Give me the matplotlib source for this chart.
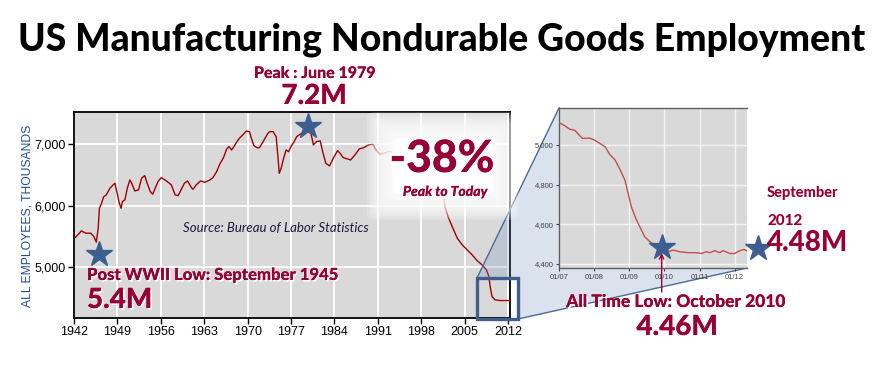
import matplotlib
matplotlib.use('Agg')
import matplotlib.pyplot as plt
from matplotlib.patches import Polygon, Rectangle, FancyBboxPatch
from matplotlib.lines import Line2D
import matplotlib.patheffects as pe

# ---------------- data ----------------
main_years = [1942.0, 1942.2, 1943.2, 1943.9, 1944.7, 1945.2, 1945.6, 1945.9, 1946.1, 1946.4,
              1946.8, 1947.2, 1947.8, 1948.3, 1948.6, 1948.9, 1949.3, 1949.6, 1949.8, 1950.2,
              1950.6, 1951.0, 1951.3, 1951.8, 1952.4, 1952.9, 1953.4, 1953.8, 1954.3, 1954.7,
              1955.2, 1955.6, 1956.1, 1956.9, 1957.7, 1958.3, 1958.8, 1959.4, 1959.8, 1960.3,
              1961.0, 1961.2, 1961.7, 1962.4, 1963.1, 1963.9, 1964.4, 1965.0, 1965.5, 1966.1,
              1966.6, 1967.0, 1967.4, 1967.8, 1968.2, 1968.8, 1969.3, 1969.8, 1970.3, 1970.6,
              1971.0, 1971.5, 1971.9, 1972.5, 1973.1, 1973.5, 1974.1, 1974.6, 1974.9, 1975.1,
              1975.4, 1975.8, 1976.2, 1976.6, 1977.0, 1977.5, 1977.9, 1978.7, 1979.5, 1980.2,
              1980.6, 1981.1, 1981.7, 1982.1, 1982.6, 1983.2, 1983.8, 1984.5, 1984.9, 1985.4,
              1986.1, 1986.6, 1987.3, 1988.0, 1988.7, 1989.5, 1990.2, 1990.7, 1991.3, 1991.9,
              1992.7, 1994.0, 1996.0, 1998.0, 1999.5, 2000.5, 2001.2, 2001.6, 2001.8, 2002.4,
              2003.1, 2003.8, 2004.6, 2005.4, 2006.2, 2007.0, 2007.8, 2008.5, 2008.9, 2009.1,
              2009.4, 2009.9, 2010.7, 2011.5, 2012.2]
main_values = [5500, 5480, 5589, 5552, 5552, 5496, 5405, 5633, 5959, 6030,
               6149, 6177, 6286, 6340, 6367, 6231, 6041, 5959, 6068, 6095,
               6286, 6421, 6367, 6242, 6258, 6449, 6492, 6367, 6231, 6188,
               6313, 6405, 6459, 6405, 6340, 6177, 6166, 6286, 6367, 6405,
               6286, 6269, 6340, 6405, 6383, 6421, 6459, 6557, 6677, 6785,
               6922, 6967, 6910, 6967, 7036, 7117, 7165, 7220, 7209, 7101,
               6981, 6948, 6948, 7047, 7155, 7209, 7209, 7128, 6775, 6530,
               6611, 6775, 6910, 6883, 6967, 7047, 7128, 7182, 7220, 7182,
               6993, 7047, 7058, 6883, 6693, 6650, 6775, 6900, 6856, 6785,
               6764, 6747, 6829, 6927, 6948, 6993, 7003, 6910, 6840, 6856,
               6883, 6880, 6800, 6700, 6600, 6450, 6300, 6176, 5986, 5796,
               5633, 5470, 5361, 5280, 5198, 5105, 5035, 4953, 4844, 4681,
               4518, 4464, 4453, 4453, 4453]

inset_years = [2007.0, 2007.17, 2007.31, 2007.45, 2007.55, 2007.67, 2007.88, 2008.02, 2008.16,
               2008.31, 2008.45, 2008.59, 2008.73, 2008.88, 2008.97, 2009.06, 2009.19, 2009.30,
               2009.44, 2009.59, 2009.78, 2009.92, 2010.1, 2010.25, 2010.44, 2010.67, 2010.9,
               2011.05, 2011.2, 2011.29, 2011.43, 2011.57, 2011.67, 2011.86, 2012.0, 2012.14,
               2012.26, 2012.35]
inset_values = [5112, 5095, 5078, 5073, 5053, 5032, 5033, 5023, 5007,
                4990, 4950, 4925, 4878, 4820, 4753, 4687, 4628, 4587,
                4537, 4512, 4487, 4478, 4462, 4470, 4462, 4457, 4457,
                4453, 4462, 4457, 4467, 4457, 4467, 4453, 4453, 4467,
                4473, 4467]

main_xticks = [1942, 1949, 1956, 1963, 1970, 1977, 1984, 1991, 1998, 2005, 2012]
main_yticks = [5000, 6000, 7000]
main_ytick_labels = ['5,000', '6,000', '7,000']
inset_xticks = [2007, 2008, 2009, 2010, 2011, 2012]
inset_xtick_labels = ['01/07', '01/08', '01/09', '01/10', '01/11', '01/12']
inset_yticks = [4400, 4600, 4800, 5000]
inset_ytick_labels = ['4,400', '4,600', '4,800', '5,000']

# star markers (date, value)
main_star_x = [1946.1, 1979.8]
main_star_y = [5214, 7307]
inset_star_x = [2009.92, 2012.67]
inset_star_y = [4487, 4480]

# ---------------- styling ----------------
W, H = 884, 366
DARKRED = '#a00000'
INSET_RED = '#c0504d'
ANN = '#990033'
STAR = '#3d5f8f'
BOXBLUE = '#3f5f8a'
FONT = ['Lato', 'DejaVu Sans']

fig = plt.figure(figsize=(W / 100, H / 100), dpi=100)
fig.patch.set_facecolor('white')


def fx(x):
    return x / W


def fy(y):
    return 1 - y / H


# ---------------- main axes ----------------
ax = fig.add_axes([fx(74), fy(318), (510 - 74) / W, (318 - 112) / H])
ax.set_zorder(0)
ax.set_facecolor('#d9d9d9')
ax.plot(main_years, main_values, color=DARKRED, lw=1.0, zorder=3)
ax.set_xlim(1942, 2012.3)
ax.set_ylim(4168, 7530)
ax.set_xticks(main_xticks)
ax.set_xticklabels([str(t) for t in main_xticks])
ax.set_yticks(main_yticks)
ax.set_yticklabels(main_ytick_labels)
ax.grid(True, color='white', lw=1.3)
ax.set_axisbelow(True)
for s in ax.spines.values():
    s.set_color('black')
    s.set_linewidth(1.3)
ax.tick_params(direction='out', length=4, width=1, labelsize=9, pad=2, colors='black')
for lab in ax.get_xticklabels() + ax.get_yticklabels():
    lab.set_family(['Liberation Sans', 'DejaVu Sans'])
ax.plot(main_star_x, main_star_y, ls='none', marker='*', ms=19, color=STAR,
        mec=STAR, zorder=6, clip_on=False)

fig.text(fx(28), fy(216), 'ALL EMPLOYEES, THOUSANDS', rotation=90, ha='center', va='center',
         fontsize=8.7, color='#1f4e9c', family=['Liberation Sans', 'DejaVu Sans'])

# ---------------- soft glow behind -38% ----------------
cx, cy = 443, 166
core_w, core_h = 100, 56
for i in range(14):
    grow = 2 * (13 - i)
    wpx, hpx = core_w + 2 * grow, core_h + 2 * grow
    p = FancyBboxPatch((fx(cx - wpx / 2), fy(cy + hpx / 2)), wpx / W, hpx / H,
                       boxstyle='round,pad=0,rounding_size=0.012', transform=fig.transFigure,
                       facecolor='white', edgecolor='none', alpha=0.16 if i < 13 else 1.0,
                       zorder=1.5)
    fig.add_artist(p)

# ---------------- zoom connector ----------------
poly_px = [(477, 278), (559, 108), (747, 268), (518, 319), (518, 278)]
poly = Polygon([(fx(x), fy(y)) for x, y in poly_px], closed=True, transform=fig.transFigure,
               facecolor='#6f8fbf', alpha=0.25, edgecolor='none', zorder=1)
fig.add_artist(poly)
fig.add_artist(Line2D([fx(477), fx(559)], [fy(278), fy(108)], transform=fig.transFigure,
                      color='#4a6a9a', lw=1.0, zorder=1.1))
fig.add_artist(Line2D([fx(518), fx(747)], [fy(319), fy(268)], transform=fig.transFigure,
                      color='#4a6a9a', lw=1.0, zorder=1.1))
fig.add_artist(Rectangle((fx(477), fy(319)), 41 / W, 41 / H, transform=fig.transFigure,
                         facecolor='none', edgecolor=BOXBLUE, lw=2.4, zorder=1.6))

# ---------------- inset ----------------
ax2 = fig.add_axes([fx(559), fy(268), (747 - 559) / W, (268 - 108) / H])
ax2.set_zorder(2)
ax2.set_facecolor('#d9d9d9')
ax2.plot(inset_years, inset_values, color=INSET_RED, lw=1.0, zorder=3)
ax2.set_xlim(2007.0, 2012.35)
ax2.set_ylim(4380, 5185)
ax2.set_xticks(inset_xticks)
ax2.set_xticklabels(inset_xtick_labels)
ax2.set_yticks(inset_yticks)
ax2.set_yticklabels(inset_ytick_labels)
ax2.grid(True, color='#f4f4f4', lw=1.0)
ax2.set_axisbelow(True)
for k, s in ax2.spines.items():
    s.set_color('#606060')
    s.set_linewidth(1.0)
ax2.spines['right'].set_visible(False)
ax2.tick_params(direction='out', length=2.5, width=0.8, labelsize=5.5, pad=1.5,
                colors='#404040')
for lab in ax2.get_xticklabels() + ax2.get_yticklabels():
    lab.set_family(['Liberation Sans Narrow', 'Liberation Sans', 'DejaVu Sans'])
ax2.plot(inset_star_x, inset_star_y, ls='none', marker='*', ms=19, color=STAR,
         mec=STAR, zorder=6, clip_on=False)
ax2.annotate('', xy=(inset_star_x[0], 4455), xycoords='data',
             xytext=(661.7, H - 292), textcoords='figure pixels',
             arrowprops=dict(arrowstyle='->', color='#a00030', lw=1.0,
                             shrinkA=0, shrinkB=0, mutation_scale=8),
             annotation_clip=False)

# ---------------- texts ----------------
shadow = [pe.withSimplePatchShadow(offset=(1.2, -1.2), shadow_rgbFace='white', alpha=1.0),
          pe.Normal()]


def T(x, y, s, size, ha='center', color=ANN, weight='black', style='normal', fx_=None,
      family=FONT):
    t = fig.text(fx(x), fy(y), s, ha=ha, va='center', fontsize=size, color=color,
                 fontweight=weight, fontstyle=style, family=family, zorder=5)
    if fx_ is not None:
        t.set_path_effects(fx_)
    return t


T(442, 40, 'US Manufacturing Nondurable Goods Employment', 26.8, color='black')
T(315, 73, 'Peak : June 1979', 11.5, fx_=shadow)
T(314, 96, '7.2M', 20, fx_=shadow)
T(442, 159, '-38%', 32, fx_=shadow)
T(445, 192, 'Peak to Today', 10, style='italic', fx_=shadow)
T(183, 228, 'Source: Bureau of Labor Statistics', 9.5, ha='left', color='#1a1a40',
  weight='normal', style='italic')
T(87, 275, 'Post WWII Low: September 1945', 12, ha='left', fx_=shadow)
T(87, 300, '5.4M', 20, ha='left', fx_=shadow)
T(676, 302, 'All Time Low: October 2010', 12.5, fx_=shadow)
T(677, 327, '4.46M', 20, fx_=shadow)
T(767, 193, 'September', 10.5, ha='left')
T(767, 221, '2012', 11, ha='left')
T(767, 243, '4.48M', 20, ha='left')

fig.savefig('out.png', dpi=100, facecolor='white')
